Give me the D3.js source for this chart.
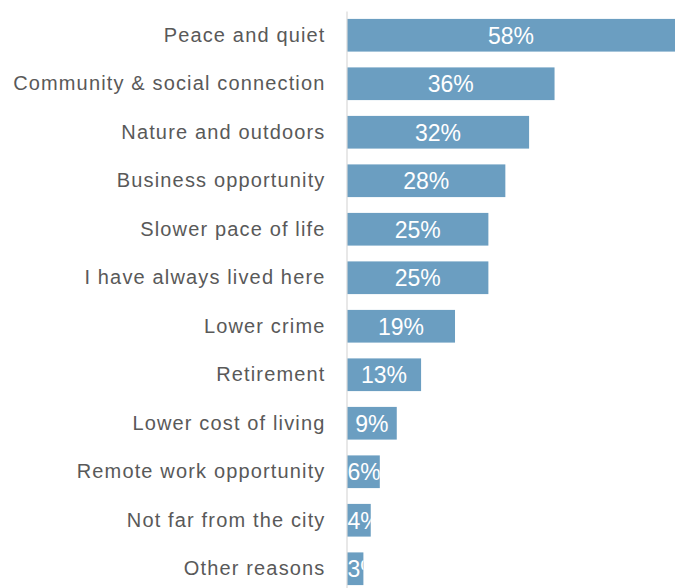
<!DOCTYPE html>
<html>
<head>
<meta charset="utf-8">
<script src="https://cdn.jsdelivr.net/npm/d3@7"></script>
<style>
  html, body { margin: 0; padding: 0; background: #ffffff; }
  svg { display: block; }
</style>
</head>
<body>
<svg id="chart" width="675" height="588"></svg>
<script>
const categories = [
  "Peace and quiet",
  "Community & social connection",
  "Nature and outdoors",
  "Business opportunity",
  "Slower pace of life",
  "I have always lived here",
  "Lower crime",
  "Retirement",
  "Lower cost of living",
  "Remote work opportunity",
  "Not far from the city",
  "Other reasons"
];
const values = [58, 36.7, 32.2, 28, 25, 25, 19.1, 13.1, 8.8, 5.8, 4.2, 2.9];
const valueLabels = ["58%", "36%", "32%", "28%", "25%", "25%", "19%", "13%", "9%", "6%", "4%", "3%"];

const data = categories.map((c, i) => ({ cat: c, value: values[i], label: valueLabels[i], i }));

const svg = d3.select("#chart");
const x0 = 347;

const x = d3.scaleLinear().domain([0, 58]).range([x0, 675]);
const y = d3.scaleBand()
  .domain(categories)
  .range([11, 593])
  .paddingInner(0.326)
  .paddingOuter(0.163);

// clip paths so labels stay inside their bars
const defs = svg.append("defs");
defs.selectAll("clipPath")
  .data(data)
  .join("clipPath")
  .attr("id", d => "clip" + d.i)
  .append("rect")
  .attr("x", x(0))
  .attr("y", d => y(d.cat))
  .attr("width", d => x(d.value) - x(0))
  .attr("height", y.bandwidth());

// bars
svg.append("g").selectAll("rect")
  .data(data)
  .join("rect")
  .attr("x", x(0))
  .attr("y", d => y(d.cat))
  .attr("width", d => x(d.value) - x(0))
  .attr("height", y.bandwidth())
  .attr("fill", "#6b9ec1");

// category axis
const yAxis = d3.axisLeft(y).tickSize(0).tickPadding(21);
const gy = svg.append("g")
  .attr("transform", `translate(${x0 - 0.5},0)`)
  .call(yAxis);
gy.select(".domain").attr("stroke", "#d9d9d9").attr("stroke-width", 1.2);
gy.selectAll(".tick text")
  .attr("fill", "#595959")
  .attr("font-family", "Liberation Sans, Arial, sans-serif")
  .attr("font-size", "20px")
  .attr("letter-spacing", "1.15px")
  .attr("dy", "0.33em");

// value labels
const labels = svg.append("g").selectAll("text")
  .data(data)
  .join("text")
  .attr("clip-path", d => `url(#clip${d.i})`)
  .attr("y", d => y(d.cat) + y.bandwidth() / 2)
  .attr("dy", "0.37em")
  .attr("text-anchor", "middle")
  .attr("fill", "#ffffff")
  .attr("font-family", "Liberation Sans, Arial, sans-serif")
  .attr("font-size", "23px")
  .text(d => d.label);

labels.each(function(d) {
  const w = this.getComputedTextLength();
  const center = (x(0) + x(d.value)) / 2;
  d3.select(this).attr("x", Math.max(center, x(0) + w / 2 + 0.5));
});
</script>
</body>
</html>
